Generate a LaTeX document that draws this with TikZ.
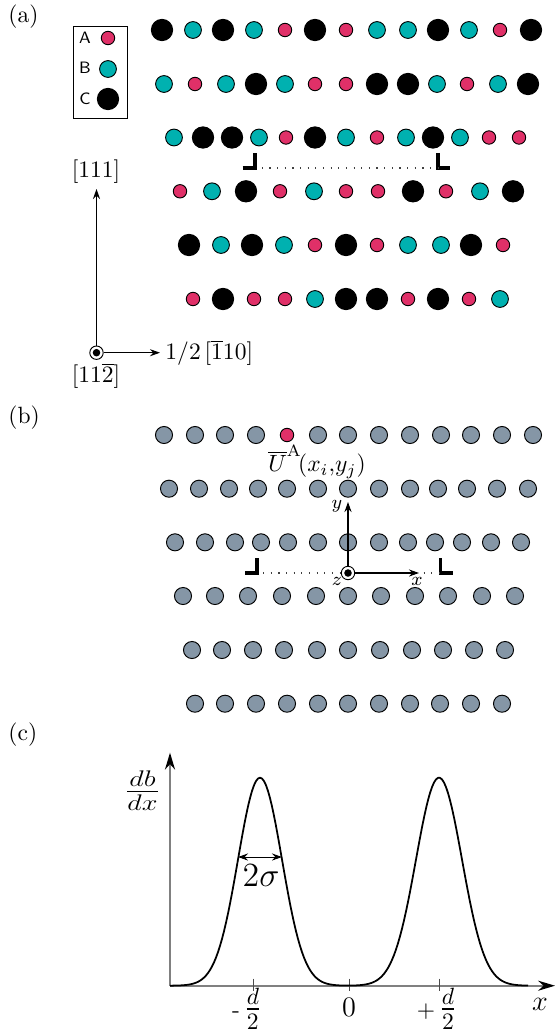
\documentclass[tikz,border=0pt]{standalone}
\usepackage{xcolor}
\usepackage{amsmath}
\usepackage{graphicx}
\usepackage{tikz}
\usetikzlibrary{arrows.meta,positioning,calc}
\definecolor{atompink}{RGB}{224,48,104}
\definecolor{atomteal}{RGB}{0,177,176}
\definecolor{atomslate}{RGB}{133,150,166}

\begin{document}
\begin{tikzpicture}[
    x=0.425pt, y=-0.425pt,
    >={Stealth[length=4.25pt,width=3pt]},
    atom/.style={circle, draw=black, line width=0.4pt, inner sep=0pt},
    atomA/.style={atom, fill=atompink, minimum size=5.7pt},
    atomB/.style={atom, fill=atomteal, minimum size=7.15pt},
    atomC/.style={atom, fill=black, minimum size=9.05pt},
    atomS/.style={atom, fill=atomslate, minimum size=7.25pt},
    origin/.style={circle, draw=black, fill=white, line width=0.4pt, inner sep=0pt, minimum size=5.7pt},
    origindot/.style={circle, fill=black, inner sep=0pt, minimum size=3.2pt},
    arrow/.style={->, line width=0.45pt},
    corner/.style={line width=1.65pt, line cap=butt},
    dotline/.style={draw=black!75, line width=0.5pt, dash pattern=on 0.5pt off 2.75pt},
    axis/.style={-{Stealth[length=7.2pt,width=4.3pt,black]}, draw=black!50, line width=0.7pt},
    tick/.style={draw=black!70, line width=0.4pt},
    keylabel/.style={font=\scriptsize\sffamily, inner sep=0pt},
    panel/.style={anchor=west, inner sep=0pt}
]
    \useasboundingbox (0,0) rectangle (555,1031);

    % panel (a)
    \node[panel] (pa) at (8,17) {(a)};
    \node[draw=black, line width=0.4pt, minimum width=22.95pt, minimum height=39.1pt, inner sep=0pt] (legend) at (100.3,72) {};
    \node[keylabel] (keyA) at (85,38) {A};
    \node[keylabel] (keyB) at (85,68) {B};
    \node[keylabel] (keyC) at (85,99) {C};
    \node[atomA] (dotA) at (108,38) {};
    \node[atomB] (dotB) at (108,69) {};
    \node[atomC] (dotC) at (108,99) {};

    \foreach \x/\k [count=\i] in {162/C,193/B,223/C,254/B,285/A,315/C,346/A,377/B,408/B,438/C,469/B,500/A,531/C}
        \node[atom\k] (ra\i) at (\x,30) {};
    \foreach \x/\k [count=\i] in {164/B,195/A,226/B,256/C,285/B,315/A,346/A,377/C,408/C,437/B,467/A,498/B,528/C}
        \node[atom\k] (rb\i) at (\x,84) {};
    \foreach \x/\k [count=\i] in {174/B,203/C,232/C,259/B,286/A,315/C,346/B,377/A,406/B,433/C,460/B,489/A,519/A}
        \node[atom\k] (rc\i) at (\x,137.5) {};
    \foreach \x/\k [count=\i] in {180/A,212/B,246/C,280/A,314/B,346/A,378/A,413/C,446/A,480/B,513/C}
        \node[atom\k] (rd\i) at (\x,191.3) {};
    \foreach \x/\k [count=\i] in {189/C,221/B,252/C,284/B,315/A,346/C,377/A,408/B,441/B,471/C,503/A}
        \node[atom\k] (re\i) at (\x,245) {};
    \foreach \x/\k [count=\i] in {193/A,223/C,254/A,285/A,315/B,346/C,377/C,408/A,438/C,469/A,500/B}
        \node[atom\k] (rf\i) at (\x,299) {};

    \coordinate (aL) at (254.7,168);
    \coordinate (aR) at (438,168);
    \draw[corner] (aL) ++(-12,0) -- ++(12,0) -- ++(0,-15);
    \draw[corner] (aR) ++(0,-15) -- ++(0,15) -- ++(12,0);
    \draw[dotline, shorten <=3pt] (aL) -- (aR);

    \node[origin] (ao) at (96.5,352.7) {};
    \node[origindot] (aod) at (ao) {};
    \coordinate (atop) at (96.5,189);
    \coordinate (aright) at (160,352.7);
    \draw[arrow] (ao) -- (atop);
    \draw[arrow] (ao) -- (aright);
    \node[inner sep=0pt] (l111) at (96,172) {$[111]$};
    \node[inner sep=0pt] (l112) at (96,376) {$[11\overline{2}]$};
    \node[anchor=west, inner sep=0pt] (l110) at (165,352.7) {$1/2\,[\overline{1}10]$};

    % panel (b)
    \node[panel] (pb) at (8,418) {(b)};
    \foreach \x/\k [count=\i] in {164/S,195/S,225/S,256/S,287/A,318/S,348/S,379/S,410/S,441/S,471/S,502/S,533/S}
        \node[atom\k] (sa\i) at (\x,435) {};
    \foreach \x [count=\i] in {169,199,229,258,287,318,348,379,410,438,467,497,528}
        \node[atomS] (sb\i) at (\x,488.7) {};
    \foreach \x [count=\i] in {175,205,235,261,288,318,348,379,408,435,462,491,521}
        \node[atomS] (sc\i) at (\x,542.3) {};
    \foreach \x [count=\i] in {183,215,248,282,316,348,381,415,448,482,515}
        \node[atomS] (sd\i) at (\x,596) {};
    \foreach \x [count=\i] in {192,222,253,284,317,348,380,412,443,474,505}
        \node[atomS] (se\i) at (\x,650) {};
    \foreach \x [count=\i] in {195,225,256,287,318,348,379,410,440,471,502}
        \node[atomS] (sf\i) at (\x,703.7) {};
    \node[inner sep=0pt] (lU) at (317,462) {$\overline{U}^{\mathrm{A}}\!(x_i,\!y_j)$};

    \coordinate (bL) at (256,573);
    \coordinate (bR) at (440.5,573);
    \draw[corner] (bL) ++(-11,0) -- ++(12,0) -- ++(0,-15);
    \draw[corner] (bR) ++(0,-15) -- ++(0,15) -- ++(12,0);
    \draw[dotline, shorten <=3pt] (bL) -- (bR);

    \node[origin] (bo) at (348,573) {};
    \node[origindot] (bod) at (bo) {};
    \coordinate (btop) at (348,502);
    \coordinate (bright) at (419,573);
    \draw[arrow] (bo) -- (btop);
    \draw[arrow] (bo) -- (bright);
    \node[inner sep=0pt, font=\footnotesize] (ly) at (337,506) {$y$};
    \node[inner sep=0pt, font=\footnotesize] (lz) at (337,581) {$z$};
    \node[inner sep=0pt, font=\footnotesize] (lx) at (417,581) {$x$};

    % panel (c)
    \node[panel] (pc) at (8,735) {(c)};
    \coordinate (co) at (170,985.7);
    \coordinate (cy) at (170,752.7);
    \coordinate (cx) at (555,985.7);
    \draw[axis] (co) -- (cy);
    \draw[axis] (co) -- (cx);
    \coordinate (tm) at (253,985.7);
    \coordinate (tz) at (349,985.7);
    \coordinate (tp) at (439,985.7);
    \foreach \t in {tm,tz,tp}
        \draw[tick] (\t) ++(0,-7) -- ++(0,12);
    \draw[black, line width=0.75pt, line join=round] plot[domain=170:528, samples=180]
        ({\x},{985.7-208*(exp(-0.5*((\x-260)/22)^2)+exp(-0.5*((\x-439)/23)^2))});
    \coordinate (wl) at (238,857);
    \coordinate (wr) at (282,857);
    \draw[<->, line width=0.4pt] (wl) -- (wr);
    \node[inner sep=0pt, font=\Large] (lw) at (261,876) {$2\sigma$};
    \node[inner sep=0pt, font=\LARGE] (lfrac) at (142.5,791) {\scalebox{1}[0.8]{$\frac{db}{dx}$}};
    \node[inner sep=0pt, font=\large] (lz0) at (349,1007) {$0$};
    \node[inner sep=0pt] (lm) at (247,1008.5) {-\,{\Large$\frac{d}{2}$}};
    \node[inner sep=0pt] (lp) at (437,1008.5) {$+$\,{\Large$\frac{d}{2}$}};
    \node[inner sep=0pt, font=\large] (lxc) at (540,1004) {$x$};
\end{tikzpicture}
\end{document}
